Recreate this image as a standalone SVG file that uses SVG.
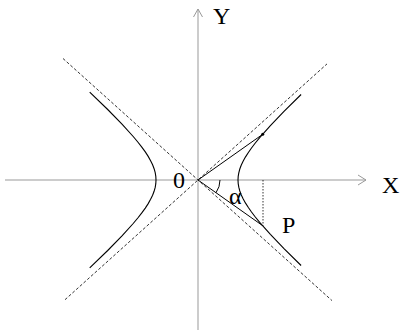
<svg xmlns="http://www.w3.org/2000/svg" width="402" height="336" viewBox="0 0 402 336">
<style>
.axis{stroke:#999;stroke-width:1;fill:none}
.asym{stroke:#333;stroke-width:1;stroke-dasharray:3,2;fill:none}
.curve{stroke:#000;stroke-width:1.1;fill:none}
.seg{stroke:#000;stroke-width:1;fill:none}
.lbl{font-family:"Liberation Serif","Times New Roman",serif;font-size:24px;fill:#000}
</style>
<rect width="402" height="336" fill="#fff"/>
<g id="axes">
<line class="axis" x1="5" y1="180" x2="366" y2="180"/>
<polyline class="axis" points="358,175 366,180 358,185"/>
<line class="axis" x1="198" y1="330" x2="198" y2="9"/>
<polyline class="axis" points="193.5,17 198,9 202.5,17"/>
</g>
<g id="asymptotes">
<line class="asym" x1="63" y1="58.5" x2="332" y2="300.6"/>
<line class="asym" x1="65" y1="299.7" x2="327" y2="63.9"/>
</g>
<g id="hyperbola">
<polyline class="curve" points="301.1,94.5 284.0,111.4 270.4,125.7 259.7,137.7 255.3,143.0 251.5,148.0 248.2,152.7 245.4,157.1 243.1,161.2 241.2,165.2 239.8,169.0 238.8,172.8 238.2,176.4 238,180 238.2,183.6 238.8,187.2 239.8,191.0 241.2,194.8 243.1,198.8 245.4,202.9 248.2,207.3 251.5,212.0 255.3,217.0 259.7,222.3 270.4,234.3 284.0,248.6 301.1,265.5"/>
<polyline class="curve" points="89.7,92.1 107.7,109.5 122.0,124.1 133.2,136.5 137.8,142.0 141.8,147.1 145.3,151.9 148.2,156.4 150.6,160.7 152.6,164.8 154.1,168.7 155.2,172.6 155.8,176.3 156,180 155.8,183.7 155.2,187.4 154.1,191.3 152.6,195.2 150.6,199.3 148.2,203.6 145.3,208.1 141.8,212.9 137.8,218.0 133.2,223.5 122.0,235.9 107.7,250.5 89.7,267.9"/>
</g>
<g id="construction">
<line class="seg" x1="198" y1="180" x2="262.7" y2="134.3"/>
<line class="seg" x1="198" y1="180" x2="262.7" y2="225.7"/>
<circle cx="262.7" cy="134.3" r="1.5" fill="#000"/>
<line x1="263" y1="180" x2="263" y2="225.7" stroke="#000" stroke-width="0.8" stroke-dasharray="1.5,1.5"/>
<path class="seg" d="M220,180 A22,22 0 0 1 216,192.7"/>
</g>
<g id="labels">
<text class="lbl" x="213" y="24">Y</text>
<text class="lbl" x="382" y="193">X</text>
<text class="lbl" x="173" y="188">0</text>
<text class="lbl" x="282" y="233">P</text>
<text class="lbl" x="229" y="204">α</text>
</g>
</svg>
